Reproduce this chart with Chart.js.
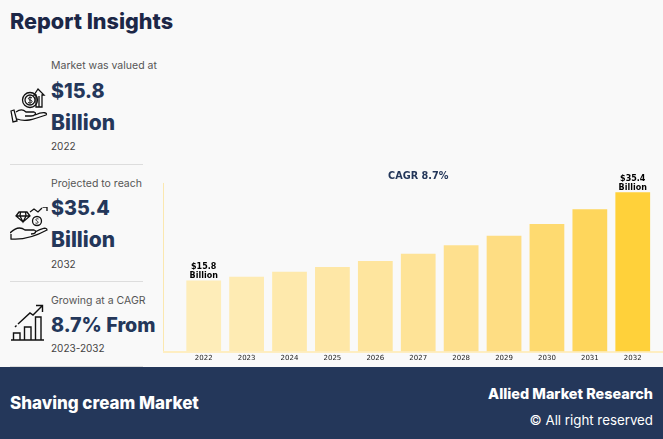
<!DOCTYPE html>
<html>
<head>
<meta charset="utf-8">
<script src="https://cdn.jsdelivr.net/npm/chart.js@4"></script>
<style>
  html, body { margin: 0; padding: 0; }
  body { width: 663px; height: 439px; background: #f9f9f9; position: relative; overflow: hidden; font-family: Inter, "Open Sans", sans-serif; }
  .t { position: absolute; white-space: nowrap; }
  h1 { position: absolute; left: 10px; top: 7px; margin: 0; font-size: 21.6px; line-height: 28px; font-weight: 800; color: #1c2747; }
  .label { left: 51px; font-size: 10.5px; line-height: 14px; color: #555; }
  .big { left: 51px; font-size: 19.7px; line-height: 30px; font-weight: 800; color: #24375a; }
  .word { font-size: 21px; }
  .year { left: 51px; font-size: 10px; line-height: 14px; color: #444; }
  .rule { position: absolute; left: 10px; width: 133px; height: 1px; background: #ddd; }
  svg { position: absolute; fill: none; stroke: #111; stroke-width: 1.3; }
  #wrap { position: absolute; left: 160px; top: 160px; width: 503px; height: 205px; }
  #footer { position: absolute; left: 0; top: 367px; width: 663px; height: 72px; background: #24375a; color: #fff; }
  #footer .t { font-weight: 800; }
</style>
</head>
<body>
<h1>Report Insights</h1>

<div class="t label" style="top:59px">Market was valued at</div>
<div class="t big" style="top:76px">$15.8</div>
<div class="t big word" style="top:108px">Billion</div>
<div class="t year" style="top:139px">2022</div>
<div class="rule" style="top:164px"></div>

<div class="t label" style="top:177px">Projected to reach</div>
<div class="t big" style="top:193px">$35.4</div>
<div class="t big word" style="top:225px">Billion</div>
<div class="t year" style="top:257px">2032</div>
<div class="rule" style="top:281px"></div>

<div class="t label" style="top:294px">Growing at a CAGR</div>
<div class="t big" style="top:310px">8.7% From</div>
<div class="t year" style="top:341px">2023-2032</div>
<div class="rule" style="top:366px"></div>

<!-- icons -->
<svg style="left:10px;top:88px" width="38" height="36" viewBox="0 0 38 36">
  <circle cx="20" cy="12" r="7.5"/><circle cx="20" cy="12" r="5"/>
  <path d="M20 8.5 V15.5 M22 10 C20 8.5 18 9.5 18.5 11 C19 12.5 22 11.5 22 13.5 C22 15 19.5 15.5 18 14.5" stroke-width="1"/>
  <path d="M28 1 L24 7 H26 V19 H32 V7 H34 Z M29 8 V19"/>
  <path d="M1 23 L4 22 L7 33 L3 34 Z M6 24 C10 21 13 21 16 24 H24 C27 25 25 28 21 28 H15 M7 31 C15 34 22 32 36 27 C38 25 34 23 25 27"/>
</svg>
<svg style="left:10px;top:207px" width="38" height="36" viewBox="0 0 38 36">
  <path d="M9 5 H17 L20 9 L13 15 L6 9 Z M6 9 H20 M10.5 5 L10 9 L13 15 L16 9 L15.5 5"/>
  <circle cx="27" cy="14" r="4.5"/>
  <path d="M25.5 16 C28 17 29 15 27 14 C25 13 26 11 28.5 12" stroke-width="0.9"/>
  <path d="M20 5 L24 2 L28 5 L32 1 M32.5 0 H37 V4"/>
  <path d="M0 26 C6 20 11 20 15 23 H24 C27 24 26 27 21 27 M1 27 V32 C12 33 26 29 37 23 C37 20 32 21 25 25"/>
</svg>
<svg style="left:11px;top:304px" width="34" height="38" viewBox="0 0 34 38">
  <path d="M0 36 H33 M2.5 36 V29 H9 V36 M13.5 36 V23 H20 V36 M24.5 36 V13 H30 V36" stroke-width="1.4"/>
  <path d="M7 20 L19 9 L22 11 L31 2 M25 1.5 H31.5 V8" stroke-width="1.4"/>
  <path d="M4 23 L5.5 21.5" stroke-width="1.4"/>
</svg>

<div id="wrap"><canvas id="barChart"></canvas></div>

<div id="footer">
  <div class="t" style="left:10px;top:25px;font-size:17px;line-height:22px">Shaving cream Market</div>
  <div class="t" style="right:10px;top:17px;font-size:14.4px;line-height:20px">Allied Market Research</div>
  <div class="t" style="right:10px;top:43px;font-size:13.3px;line-height:20px;font-weight:400">© All right reserved</div>
</div>

<script>
// chart values
const years = ['2022', '2023', '2024', '2025', '2026', '2027', '2028', '2029', '2030', '2031', '2032'];
const marketValues = [15.8, 16.6, 17.7, 18.8, 20.1, 21.7, 23.6, 25.7, 28.3, 31.6, 35.4];
const barColors = ['#feedb9', '#feebb3', '#fee9ac', '#fee7a6', '#fee59e', '#fee397', '#fee08e', '#fedd83', '#feda70', '#fed65c', '#ffd13a'];
const barLabels = { '2022': ['$15.8', 'Billion'], '2032': ['$35.4', 'Billion'] };

// axis lines run past the bars on the left, so draw them from the chart area
const axisLines = {
  id: 'axisLines',
  beforeDatasetsDraw(chart) {
    const { ctx, chartArea } = chart;
    ctx.save();
    ctx.strokeStyle = '#fbe8b0';
    ctx.lineWidth = 1;
    ctx.beginPath();
    ctx.moveTo(3.5, chartArea.top - 5.6);
    ctx.lineTo(3.5, chartArea.bottom);
    ctx.stroke();
    ctx.strokeStyle = '#feeec2';
    ctx.lineWidth = 2;
    ctx.beginPath();
    ctx.moveTo(3, chartArea.bottom + 0.5);
    ctx.lineTo(chart.width, chartArea.bottom + 0.5);
    ctx.stroke();
    ctx.restore();
  }
};

// the two value labels above the first and last bar
const valueLabels = {
  id: 'valueLabels',
  afterDatasetsDraw(chart) {
    const { ctx } = chart;
    ctx.save();
    ctx.font = 'bold 8px "DejaVu Sans"';
    ctx.fillStyle = '#000';
    ctx.textAlign = 'center';
    chart.getDatasetMeta(0).data.forEach((bar, i) => {
      const lines = barLabels[years[i]];
      if (!lines) return;
      ctx.fillText(lines[0], bar.x, bar.y - 11);
      ctx.fillText(lines[1], bar.x, bar.y - 2);
    });
    ctx.restore();
  }
};

const barCtx = document.getElementById('barChart').getContext('2d');
new Chart(barCtx, {
  type: 'bar',
  data: {
    labels: years,
    datasets: [{
      data: marketValues,
      backgroundColor: barColors,
      barPercentage: 0.81,
      categoryPercentage: 1
    }]
  },
  options: {
    responsive: true,
    maintainAspectRatio: false,
    animation: false,
    layout: { padding: { left: 22.25, right: 8.8, top: 0, bottom: 0 } },
    plugins: {
      legend: { display: false },
      tooltip: { enabled: false },
      title: {
        display: true,
        text: 'CAGR 8.7%',
        color: '#24375a',
        font: { family: '"DejaVu Sans"', size: 9.7, weight: 'bold' },
        padding: { top: 10.5, bottom: 6.4 }
      }
    },
    scales: {
      x: {
        grid: { display: false, tickLength: 0 },
        border: { display: false },
        ticks: { color: '#222', font: { family: '"DejaVu Sans"', size: 7 }, padding: 2.5, maxRotation: 0 }
      },
      y: { display: false, min: 0, max: 36.2 }
    }
  },
  plugins: [axisLines, valueLabels]
});
</script>
</body>
</html>
